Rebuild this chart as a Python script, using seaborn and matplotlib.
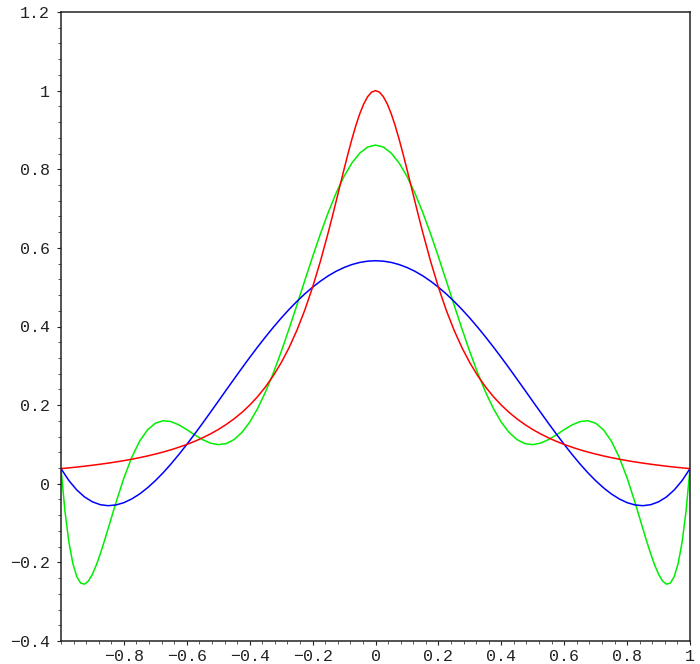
import numpy as np
import pandas as pd
import matplotlib
matplotlib.use('Agg')
import matplotlib.pyplot as plt
import seaborn as sns
from matplotlib.ticker import MultipleLocator

# sample positions along x (81 points, -1 .. 1)
x = list(np.linspace(-1, 1, 81))

# red curve
red = [0.0385, 0.0404, 0.0424, 0.0447, 0.0471, 0.0497, 0.0525, 0.0555, 0.0588, 0.0624,
       0.0664, 0.0707, 0.0755, 0.0807, 0.0865, 0.0929, 0.1, 0.1079, 0.1168, 0.1267,
       0.1379, 0.1506, 0.1649, 0.1813, 0.2, 0.2215, 0.2462, 0.2747, 0.3077, 0.3459,
       0.3902, 0.4414, 0.5, 0.5664, 0.64, 0.7191, 0.8, 0.8767, 0.9412, 0.9846,
       1.0,
       0.9846, 0.9412, 0.8767, 0.8, 0.7191, 0.64, 0.5664, 0.5, 0.4414, 0.3902,
       0.3459, 0.3077, 0.2747, 0.2462, 0.2215, 0.2, 0.1813, 0.1649, 0.1506, 0.1379,
       0.1267, 0.1168, 0.1079, 0.1, 0.0929, 0.0865, 0.0807, 0.0755, 0.0707, 0.0664,
       0.0624, 0.0588, 0.0555, 0.0525, 0.0497, 0.0471, 0.0447, 0.0424, 0.0404, 0.0385]
# extra red samples around the peak
x_red_extra = [-0.1375, -0.1125, -0.0875, -0.0625, -0.0375, -0.0125,
               0.0125, 0.0375, 0.0625, 0.0875, 0.1125, 0.1375]
red_extra = [0.6790, 0.7596, 0.8393, 0.9110, 0.9660, 0.9961,
             0.9961, 0.9660, 0.9110, 0.8393, 0.7596, 0.6790]

# blue curve
blue = [0.0385, 0.0082, -0.0157, -0.0337, -0.0460, -0.0533, -0.0558, -0.0539, -0.0481, -0.0386,
        -0.0260, -0.0103, 0.0078, 0.0282, 0.0506, 0.0746, 0.1, 0.1265, 0.1537, 0.1816,
        0.2097, 0.2380, 0.2661, 0.2939, 0.3212, 0.3477, 0.3733, 0.3979, 0.4213, 0.4433,
        0.4638, 0.4828, 0.5, 0.5154, 0.5290, 0.5406, 0.5501, 0.5576, 0.5630, 0.5662,
        0.5673,
        0.5662, 0.5630, 0.5576, 0.5501, 0.5406, 0.5290, 0.5154, 0.5, 0.4828, 0.4638,
        0.4433, 0.4213, 0.3979, 0.3733, 0.3477, 0.3212, 0.2939, 0.2661, 0.2380, 0.2097,
        0.1816, 0.1537, 0.1265, 0.1, 0.0746, 0.0506, 0.0282, 0.0078, -0.0103, -0.0260,
        -0.0386, -0.0481, -0.0539, -0.0558, -0.0533, -0.0460, -0.0337, -0.0157, 0.0082, 0.0385]

# green curve
green = [0.0385, -0.1480, -0.2360, -0.2554, -0.2300, -0.1781, -0.1138, -0.0472, 0.0147, 0.0673,
         0.1084, 0.1371, 0.1540, 0.1603, 0.1581, 0.1497, 0.1377, 0.1244, 0.1122, 0.1034,
         0.0995, 0.1021, 0.1122, 0.1303, 0.1566, 0.1911, 0.2330, 0.2816, 0.3356, 0.3938,
         0.4546, 0.5164, 0.5774, 0.6361, 0.6907, 0.7398, 0.7820, 0.8160, 0.8411, 0.8564,
         0.8615,
         0.8564, 0.8411, 0.8160, 0.7820, 0.7398, 0.6907, 0.6361, 0.5774, 0.5164, 0.4546,
         0.3938, 0.3356, 0.2816, 0.2330, 0.1911, 0.1566, 0.1303, 0.1122, 0.1021, 0.0995,
         0.1034, 0.1122, 0.1244, 0.1377, 0.1497, 0.1581, 0.1603, 0.1540, 0.1371, 0.1084,
         0.0673, 0.0147, -0.0472, -0.1138, -0.1781, -0.2300, -0.2554, -0.2360, -0.1480, 0.0385]
# extra green samples in the steep dips near both ends
x_green_extra = [-0.9875, -0.9625, -0.9375, -0.9125, -0.8875, -0.8625,
                 0.8625, 0.8875, 0.9125, 0.9375, 0.9625, 0.9875]
green_extra = [-0.0692, -0.2023, -0.2527, -0.2471, -0.2064, -0.1468,
               -0.1468, -0.2064, -0.2471, -0.2527, -0.2023, -0.0692]

xticks = [-0.8, -0.6, -0.4, -0.2, 0, 0.2, 0.4, 0.6, 0.8, 1]
xticklabels = ['\u22120.8', '\u22120.6', '\u22120.4', '\u22120.2', '0', '0.2', '0.4', '0.6', '0.8', '1']
yticks = [-0.4, -0.2, 0, 0.2, 0.4, 0.6, 0.8, 1, 1.2]
yticklabels = ['\u22120.4', '\u22120.2', '0', '0.2', '0.4', '0.6', '0.8', '1', '1.2']

sns.set_style('ticks')
plt.rcParams['font.family'] = ['Liberation Mono', 'DejaVu Sans']

fig = plt.figure(figsize=(7, 6.64), dpi=100)
ax = fig.add_axes([61/700, 23/664, 629/700, 629/664])

df_red = pd.DataFrame({'x': x + x_red_extra, 'y': red + red_extra})
df_blue = pd.DataFrame({'x': x, 'y': blue})
df_green = pd.DataFrame({'x': x + x_green_extra, 'y': green + green_extra})

# lineplot sorts by x, so the extra samples fall into place
sns.lineplot(data=df_green, x='x', y='y', ax=ax, color='#00ee00', lw=1.1)
sns.lineplot(data=df_blue, x='x', y='y', ax=ax, color='#0000ff', lw=1.1)
sns.lineplot(data=df_red, x='x', y='y', ax=ax, color='#ff0000', lw=1.1)

ax.set_xlim(-1, 1)
ax.set_ylim(-0.4, 1.2)
ax.set_xticks(xticks)
ax.set_xticklabels(xticklabels)
ax.set_yticks(yticks)
ax.set_yticklabels(yticklabels)
ax.xaxis.set_minor_locator(MultipleLocator(0.04))
ax.yaxis.set_minor_locator(MultipleLocator(0.04))
ax.tick_params(which='major', direction='out', length=3, width=0.8, labelsize=12, colors='#222222')
ax.tick_params(axis='x', which='major', pad=2.5)
ax.tick_params(axis='y', which='major', pad=5)
ax.tick_params(which='minor', direction='out', length=2, width=0.7, colors='#555555')
ax.set_xlabel('')
ax.set_ylabel('')
for s in ax.spines.values():
    s.set_linewidth(1.1)
    s.set_color('#222222')

fig.savefig('out.png', dpi=100)
